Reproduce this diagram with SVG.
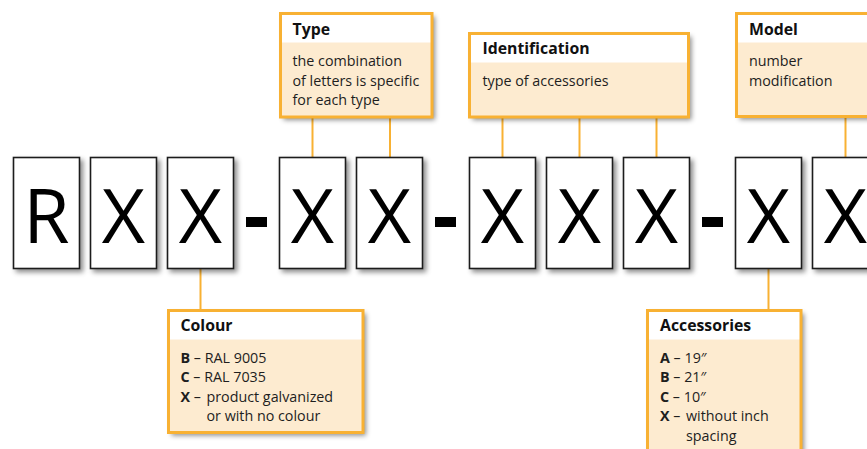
<svg xmlns="http://www.w3.org/2000/svg" width="867" height="449" viewBox="0 0 867 449">
<defs>
<filter id="sh" x="-20%" y="-20%" width="140%" height="140%">
<feDropShadow dx="3" dy="3" stdDeviation="2.5" flood-color="#000" flood-opacity="0.45"/>
</filter>
<style>
.lb{fill:#fff;stroke:#1a1a1a;stroke-width:1.6}
.lt{font-family:"Open Sans","Liberation Sans",sans-serif;font-size:75px;fill:#000;text-anchor:middle}
.cb{fill:#fdebd0}
.ct{fill:#fff}
.co{fill:none;stroke:#f8b133;stroke-width:3}
.tt{font-family:"Open Sans","Liberation Sans",sans-serif;font-size:15.8px;font-weight:bold;fill:#111}
.bt{font-family:"Open Sans","Liberation Sans",sans-serif;font-size:14.3px;fill:#1e1e1e}
.b{font-weight:bold}
.cn{stroke:#f8b133;stroke-width:2;fill:none}
</style>
</defs>
<rect width="867" height="449" fill="#fff"/>

<g id="connectors">
<line class="cn" x1="312.5" y1="118" x2="312.5" y2="157"/>
<line class="cn" x1="390" y1="118" x2="390" y2="157"/>
<line class="cn" x1="502.5" y1="118" x2="502.5" y2="157"/>
<line class="cn" x1="579.5" y1="118" x2="579.5" y2="157"/>
<line class="cn" x1="656.5" y1="118" x2="656.5" y2="157"/>
<line class="cn" x1="845.5" y1="118" x2="845.5" y2="157"/>
<line class="cn" x1="200.5" y1="269" x2="200.5" y2="309"/>
<line class="cn" x1="768.5" y1="269" x2="768.5" y2="309"/>
</g>

<g id="letter-1"><rect class="lb" x="13.5" y="157.5" width="66" height="111" filter="url(#sh)"/><text class="lt" x="46.5" y="243">R</text></g>
<g id="letter-2"><rect class="lb" x="90.5" y="157.5" width="66" height="111" filter="url(#sh)"/><text class="lt" x="123.5" y="243">X</text></g>
<g id="letter-3"><rect class="lb" x="167.5" y="157.5" width="66" height="111" filter="url(#sh)"/><text class="lt" x="200.5" y="243">X</text></g>
<g id="dash-1"><rect x="246" y="217" width="21" height="10" fill="#000"/></g>
<g id="letter-4"><rect class="lb" x="279.5" y="157.5" width="66" height="111" filter="url(#sh)"/><text class="lt" x="312.5" y="243">X</text></g>
<g id="letter-5"><rect class="lb" x="356.5" y="157.5" width="66" height="111" filter="url(#sh)"/><text class="lt" x="389.5" y="243">X</text></g>
<g id="dash-2"><rect x="435" y="217" width="21" height="10" fill="#000"/></g>
<g id="letter-6"><rect class="lb" x="469.5" y="157.5" width="66" height="111" filter="url(#sh)"/><text class="lt" x="502.5" y="243">X</text></g>
<g id="letter-7"><rect class="lb" x="546.5" y="157.5" width="66" height="111" filter="url(#sh)"/><text class="lt" x="579.5" y="243">X</text></g>
<g id="letter-8"><rect class="lb" x="623.5" y="157.5" width="66" height="111" filter="url(#sh)"/><text class="lt" x="656.5" y="243">X</text></g>
<g id="dash-3"><rect x="702" y="217" width="21" height="10" fill="#000"/></g>
<g id="letter-9"><rect class="lb" x="735.5" y="157.5" width="66" height="111" filter="url(#sh)"/><text class="lt" x="768.5" y="243">X</text></g>
<g id="letter-10"><rect class="lb" x="812.5" y="157.5" width="66" height="111" filter="url(#sh)"/><text class="lt" x="845.5" y="243">X</text></g>

<g id="type">
<rect class="cb" x="280.5" y="13.5" width="151.5" height="103.5" filter="url(#sh)"/>
<rect class="ct" x="280.5" y="13.5" width="151.5" height="29"/>
<rect class="co" x="280.5" y="13.5" width="151.5" height="103.5"/>
<text class="tt" x="292.5" y="35">Type</text>
<text class="bt" x="292.5" y="66">the combination</text>
<text class="bt" x="292.5" y="85.5">of letters is specific</text>
<text class="bt" x="292.5" y="105">for each type</text>
</g>

<g id="identification">
<rect class="cb" x="469.5" y="33.5" width="219" height="83.5" filter="url(#sh)"/>
<rect class="ct" x="469.5" y="33.5" width="219" height="29"/>
<rect class="co" x="469.5" y="33.5" width="219" height="83.5"/>
<text class="tt" x="482.5" y="54">Identification</text>
<text class="bt" x="482.5" y="86">type of accessories</text>
</g>

<g id="model">
<rect class="cb" x="736.5" y="13.5" width="140" height="103" filter="url(#sh)"/>
<rect class="ct" x="736.5" y="13.5" width="140" height="29"/>
<rect class="co" x="736.5" y="13.5" width="140" height="103"/>
<text class="tt" x="749" y="35">Model</text>
<text class="bt" x="749" y="66">number</text>
<text class="bt" x="749" y="85.5">modification</text>
</g>

<g id="colour">
<rect class="cb" x="168.5" y="310.5" width="194.5" height="122" filter="url(#sh)"/>
<rect class="ct" x="168.5" y="310.5" width="194.5" height="29"/>
<rect class="co" x="168.5" y="310.5" width="194.5" height="122"/>
<text class="tt" x="180.5" y="331">Colour</text>
<text class="bt" x="180.5" y="363"><tspan class="b">B</tspan> – RAL 9005</text>
<text class="bt" x="180.5" y="382"><tspan class="b">C</tspan> – RAL 7035</text>
<text class="bt" x="180.5" y="401.5"><tspan class="b">X</tspan> –</text>
<text class="bt" x="206.5" y="401.5">product galvanized</text>
<text class="bt" x="206.5" y="421">or with no colour</text>
</g>

<g id="accessories">
<rect class="cb" x="647.5" y="310.5" width="153.5" height="150" filter="url(#sh)"/>
<rect class="ct" x="647.5" y="310.5" width="153.5" height="29"/>
<rect class="co" x="647.5" y="310.5" width="153.5" height="150"/>
<text class="tt" x="660" y="331">Accessories</text>
<text class="bt" x="660" y="363"><tspan class="b">A</tspan> – 19″</text>
<text class="bt" x="660" y="382"><tspan class="b">B</tspan> – 21″</text>
<text class="bt" x="660" y="401.5"><tspan class="b">C</tspan> – 10″</text>
<text class="bt" x="660" y="421"><tspan class="b">X</tspan> –</text>
<text class="bt" x="686" y="421">without inch</text>
<text class="bt" x="686" y="440.5">spacing</text>
</g>
</svg>
